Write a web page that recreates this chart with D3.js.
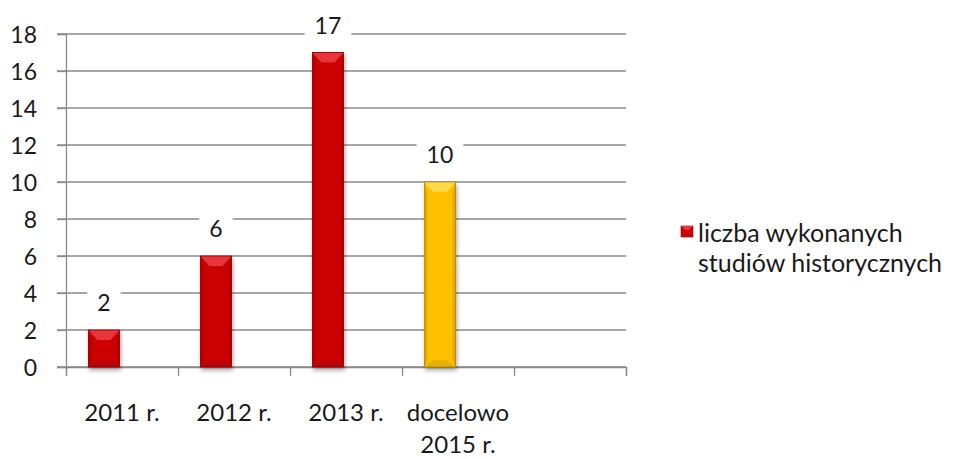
<!DOCTYPE html>
<html>
<head>
<meta charset="utf-8">
<script src="https://cdn.jsdelivr.net/npm/d3@7"></script>
<style>
  body { margin: 0; background: #fff; }
  text { font-family: Lato, "Open Sans", sans-serif; fill: #1a1a1a; }
</style>
</head>
<body>
<div id="chart"></div>
<script>
// chart values
const categories = ["2011 r.", "2012 r.", "2013 r.", "docelowo\n2015 r.", ""]
const values = [2, 6, 17, 10, null]
const seriesName = ["liczba wykonanych", "studiów historycznych"]
const yTicks = [0, 2, 4, 6, 8, 10, 12, 14, 16, 18]

const w = 961
const h = 459

const palette = {
  red: { face: "#cc0000", top: "#e8353a", side: "#b30000", bottom: "#b80404", edge: "#8e0000" },
  yellow: { face: "#ffc000", top: "#ffd84d", side: "#e5a900", bottom: "#e8b000", edge: "#b38600" },
}
// the target bar is drawn in yellow
const barColor = (d, i) => (i === 3 ? palette.yellow : palette.red)

const svg = d3.select("#chart").append("svg").attr("width", w).attr("height", h)

const defs = svg.append("defs")
defs
  .append("filter")
  .attr("id", "shadow")
  .attr("x", "-30%").attr("y", "-10%").attr("width", "160%").attr("height", "130%")
  .append("feDropShadow")
  .attr("dx", 1).attr("dy", 3).attr("stdDeviation", 2)
  .attr("flood-color", "#000").attr("flood-opacity", 0.35)

const x0 = d3.scaleBand().domain(d3.range(categories.length)).range([66, 626]).padding(0)
const x1 = d3
  .scaleBand()
  .domain(["wykonane", "brak"])
  .range([0, x0.bandwidth()])
  .paddingInner(0)
  .paddingOuter(0.8)
  .align(0.45)
const y = d3.scaleLinear().domain([0, 18]).range([367, 34])

// gridlines
svg
  .append("g")
  .selectAll("line")
  .data(yTicks)
  .enter()
  .append("line")
  .attr("x1", 57)
  .attr("x2", 626)
  .attr("y1", (d) => y(d))
  .attr("y2", (d) => y(d))
  .attr("stroke", "#8a8a8a")
  .attr("stroke-width", 1.3)

// y axis
const yAxis = svg
  .append("g")
  .attr("transform", "translate(66,0)")
  .call(d3.axisLeft(y).tickValues(yTicks).tickSize(9).tickPadding(20))
yAxis.select(".domain").attr("stroke", "#8a8a8a").attr("stroke-width", 1.3)
yAxis.selectAll(".tick line").attr("stroke", "#8a8a8a").attr("stroke-width", 1.3)
yAxis
  .selectAll(".tick text")
  .attr("font-size", 23)
  .attr("font-family", "Lato, sans-serif")
  .attr("fill", "#1a1a1a")
  .attr("dy", "0.36em")

// x axis
const xAxis = svg
  .append("g")
  .attr("transform", "translate(0,367)")
  .call(
    d3
      .axisBottom(d3.scaleLinear().domain([0, categories.length]).range([66, 626]))
      .tickValues(d3.range(categories.length + 1))
      .tickSize(9)
      .tickFormat("")
  )
xAxis.select(".domain").attr("stroke", "#8a8a8a").attr("stroke-width", 1.3)
xAxis.selectAll(".tick line").attr("stroke", "#8a8a8a").attr("stroke-width", 1.3)

// category labels
svg
  .append("g")
  .selectAll("text")
  .data(categories)
  .enter()
  .append("text")
  .attr("text-anchor", "middle")
  .attr("font-size", 24)
  .each(function (d, i) {
    const t = d3.select(this)
    d.split("\n").forEach((line, k) => {
      t.append("tspan")
        .attr("x", x0(i) + x0.bandwidth() / 2)
        .attr("y", 421 + k * 32)
        .text(line)
    })
  })

// bars with bevel
const bars = svg
  .append("g")
  .selectAll("g")
  .data(values.map((v, i) => ({ v, i })).filter((d) => d.v !== null))
  .enter()
  .append("g")
  .attr("filter", "url(#shadow)")

bars.each(function (d) {
  const g = d3.select(this)
  const c = barColor(d, d.i)
  const bx = x0(d.i) + x1("wykonane")
  const bw = x1.bandwidth()
  const by = y(d.v)
  const bh = y(0) - by
  const s = 3
  const t = Math.min(10, bh / 3)
  const b = Math.min(7, bh / 4)
  g.append("rect").attr("x", bx).attr("y", by).attr("width", bw).attr("height", bh).attr("fill", c.face)
  g.append("polygon")
    .attr("points", [[bx, by], [bx + s, by + t], [bx + s, by + bh - b], [bx, by + bh]].join(" "))
    .attr("fill", c.side)
  g.append("polygon")
    .attr("points", [[bx + bw, by], [bx + bw - s, by + t], [bx + bw - s, by + bh - b], [bx + bw, by + bh]].join(" "))
    .attr("fill", c.side)
  g.append("polygon")
    .attr("points", [[bx, by], [bx + bw, by], [bx + bw - 9, by + t], [bx + 9, by + t]].join(" "))
    .attr("fill", c.top)
  g.append("polygon")
    .attr("points", [[bx, by + bh], [bx + bw, by + bh], [bx + bw - 9, by + bh - b], [bx + 9, by + bh - b]].join(" "))
    .attr("fill", c.bottom)
  g.append("rect")
    .attr("x", bx).attr("y", by).attr("width", bw).attr("height", bh)
    .attr("fill", "none").attr("stroke", c.edge).attr("stroke-width", 0.8)
})

// value labels
const labels = svg
  .append("g")
  .selectAll("g")
  .data(values.map((v, i) => ({ v, i })).filter((d) => d.v !== null))
  .enter()
  .append("g")
  .attr("transform", (d) => `translate(${x0(d.i) + x1("wykonane") + x1.bandwidth() / 2},${y(d.v) - 19})`)
labels
  .append("text")
  .attr("text-anchor", "middle")
  .attr("font-size", 23)
  .text((d) => d.v)
labels.each(function () {
  const g = d3.select(this)
  const bb = g.select("text").node().getBBox()
  g.insert("rect", "text")
    .attr("x", bb.x - 10)
    .attr("y", bb.y)
    .attr("width", bb.width + 20)
    .attr("height", bb.height)
    .attr("fill", "#fff")
})

// legend
const legend = svg.append("g").attr("transform", "translate(681,226)")
const lc = palette.red
legend.append("rect").attr("width", 12).attr("height", 11).attr("fill", lc.face).attr("stroke", lc.edge).attr("stroke-width", 0.6)
legend.append("polygon").attr("points", "0,0 12,0 8,4 4,4").attr("fill", lc.top)
legend
  .append("text")
  .attr("font-size", 25)
  .selectAll("tspan")
  .data(seriesName)
  .enter()
  .append("tspan")
  .attr("x", 17)
  .attr("y", (d, i) => 16 + i * 30)
  .text((d) => d)
</script>
</body>
</html>
